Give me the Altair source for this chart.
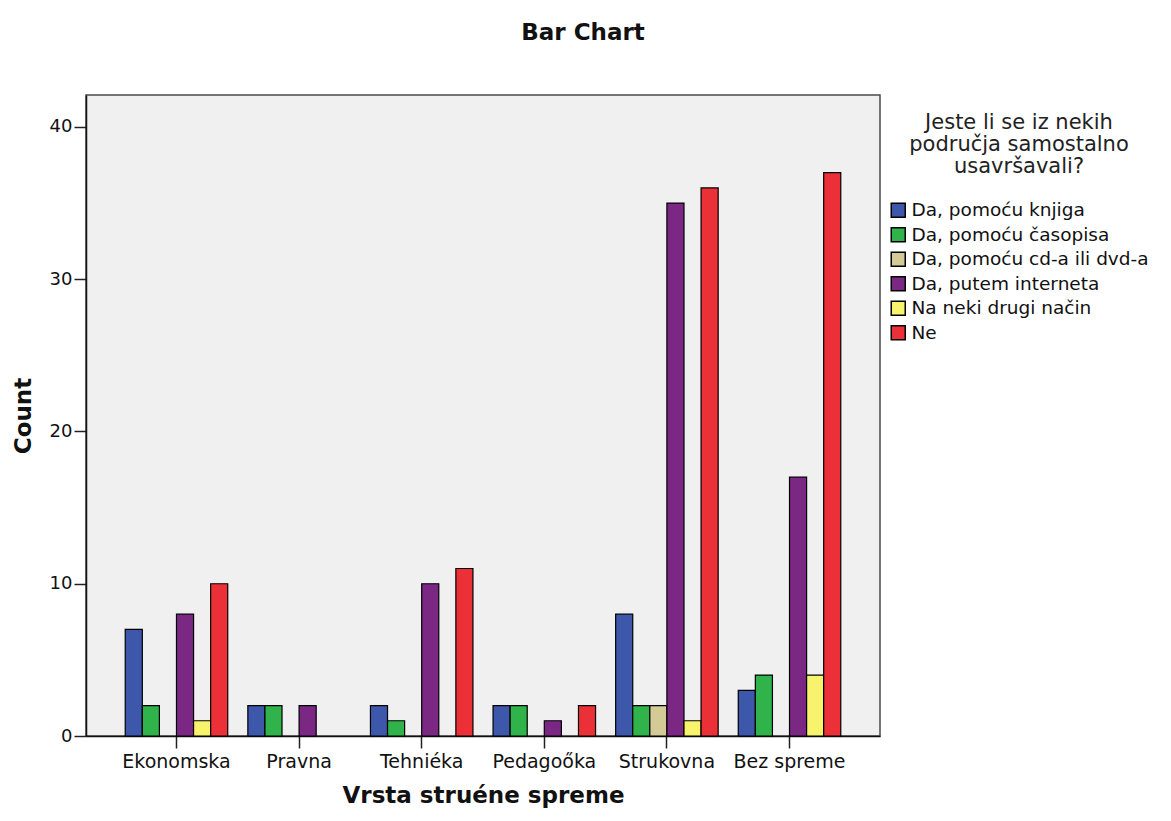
import altair as alt
import pandas as pd

categories = ["Ekonomska", "Pravna", "Tehniéka", "Pedagoőka", "Strukovna", "Bez spreme"]
series = ["Da, pomoću knjiga", "Da, pomoću časopisa", "Da, pomoću cd-a ili dvd-a",
          "Da, putem interneta", "Na neki drugi način", "Ne"]
colors = ["#3d58aa", "#2fb34a", "#d3ca96", "#7b2885", "#f7f36c", "#ec3037"]

knjiga = [7, 2, 2, 2, 8, 3]
casopisa = [2, 2, 1, 2, 2, 4]
cd_dvd = [0, 0, 0, 0, 2, 0]
internet = [8, 2, 10, 1, 35, 17]
drugi = [1, 0, 0, 0, 1, 4]
ne = [10, 0, 11, 2, 36, 37]

values = [knjiga, casopisa, cd_dvd, internet, drugi, ne]
rows = []
for s, vals in zip(series, values):
    for c, v in zip(categories, vals):
        rows.append({"cat": c, "series": s, "count": v})
df = pd.DataFrame(rows)

FONT = "DejaVu Sans"

chart = alt.Chart(df).transform_filter(alt.datum["count"] > 0).mark_bar(
    stroke="black", strokeWidth=1.2
).encode(
    x=alt.X("cat:N", sort=categories,
            scale=alt.Scale(domain=categories, paddingInner=0.164, paddingOuter=0.32),
            axis=alt.Axis(title="Vrsta struéne spreme", labelAngle=0,
                          labelFont=FONT, labelFontSize=19, labelColor="#111",
                          titleFont=FONT, titleFontSize=23, titleFontWeight="bold",
                          titleColor="#111", titlePadding=13,
                          tickSize=12, tickColor="#222", tickWidth=1.5,
                          domainColor="#111", domainWidth=1.5, labelPadding=4,
                          grid=False)),
    xOffset=alt.XOffset("series:N", scale=alt.Scale(domain=series, paddingInner=0, paddingOuter=0)),
    y=alt.Y("count:Q", scale=alt.Scale(domain=[0, 42.1], nice=False),
            axis=alt.Axis(title="Count", values=[0, 10, 20, 30, 40],
                          labelFont=FONT, labelFontSize=18, labelColor="#111",
                          titleFont=FONT, titleFontSize=23, titleFontWeight="bold",
                          titleColor="#111", titlePadding=14,
                          tickSize=12, tickColor="#222", tickWidth=1.5,
                          domainColor="#111", domainWidth=1.5, labelPadding=2,
                          grid=False)),
    color=alt.Color("series:N", scale=alt.Scale(domain=series, range=colors),
                    legend=alt.Legend(
                        title=["Jeste li se iz nekih", "područja samostalno", "usavršavali?"],
                        orient="none", legendX=803, legendY=17,
                        titleFont=FONT, titleFontSize=21, titleFontWeight="normal",
                        titleColor="#222", titleAlign="center", titleAnchor="middle",
                        titleLineHeight=22, titlePadding=24, titleLimit=500,
                        labelFont=FONT, labelFontSize=18.5, labelColor="#111",
                        labelLimit=500, labelOffset=4,
                        symbolType="square", symbolSize=196, symbolStrokeColor="black",
                        symbolStrokeWidth=1.5, symbolOpacity=1, rowPadding=3.5)),
).properties(
    width=794, height=641,
    background="white",
    title=alt.TitleParams("Bar Chart", font=FONT, fontSize=23, fontWeight="bold",
                          color="#111", anchor="middle", dx=100, offset=50),
    autosize=alt.AutoSizeParams(type="none"),
    padding={"left": 78, "top": 87, "right": 281, "bottom": 75},
).configure_view(
    fill="#f0f0f0", stroke="#4a4a4a", strokeWidth=1.5
)

chart.save("out.html", embed_options={"renderer": "svg", "actions": False})
